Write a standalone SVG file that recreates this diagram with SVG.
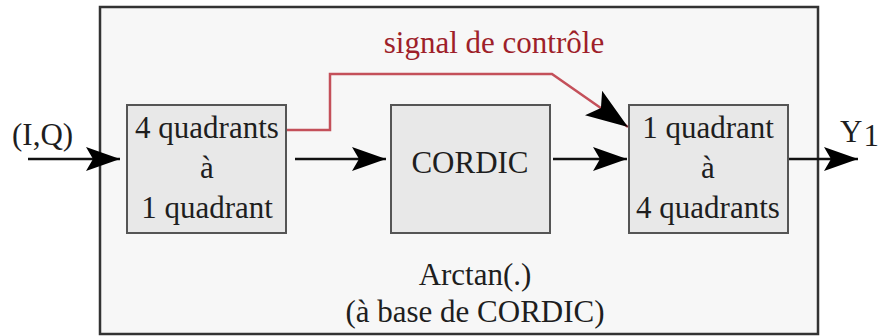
<svg xmlns="http://www.w3.org/2000/svg" width="880" height="336" viewBox="0 0 880 336">
<style>
  .t { font-family: "Liberation Serif", "Times New Roman", serif; font-size: 31px; fill: #1e1e1e; text-anchor: middle; }
  .red { fill: #9e1f2a; }
  .blk { fill: #e8e8e8; stroke: #555; stroke-width: 2; }
  .ln { fill: none; stroke: #111; stroke-width: 2.5; }
  .rl { fill: none; stroke: #c4505a; stroke-width: 2.5; }
</style>
<defs>
  <marker id="ah" markerUnits="userSpaceOnUse" markerWidth="36" markerHeight="26" viewBox="0 0 36 26" refX="34" refY="13" orient="auto">
    <path d="M0,1 L34,13 L0,25 L7,13 Z" fill="#000"/>
  </marker>
  <marker id="ahBig" markerUnits="userSpaceOnUse" markerWidth="44" markerHeight="32" viewBox="0 0 44 32" refX="42" refY="16" orient="auto">
    <path d="M0,1 L42,16 L0,31 L9,16 Z" fill="#000"/>
  </marker>
</defs>
<rect width="880" height="336" fill="#fff"/>
<g id="outer">
  <rect x="100" y="7" width="718" height="327" fill="#f7f7f7" stroke="#333" stroke-width="2.5"/>
  <text class="t" x="475" y="285">Arctan(.)</text>
  <text class="t" x="475" y="322">(à base de CORDIC)</text>
</g>
<g id="connectors">
  <path class="ln" d="M28,159 L120,159" marker-end="url(#ah)"/>
  <path class="ln" d="M295,159 L386,159" marker-end="url(#ah)"/>
  <path class="ln" d="M553,159 L627,159" marker-end="url(#ah)"/>
  <path class="ln" d="M788,159 L858,159" marker-end="url(#ah)"/>
  <path class="rl" d="M286,130 L330,130 L330,74 L552,74 L628,127" marker-end="url(#ahBig)"/>
</g>
<g id="in-label"><text class="t" x="12" y="145" style="text-anchor:start">(I,Q)</text></g>
<g id="out-label"><text class="t" x="840" y="142" style="text-anchor:start">Y<tspan dx="1" dy="4">1</tspan></text></g>
<g id="ctrl-label"><text class="t red" x="494" y="53">signal de contrôle</text></g>
<g id="n1">
  <rect class="blk" x="127" y="105" width="159" height="128"/>
  <text class="t" x="207" y="138">4 quadrants</text>
  <text class="t" x="207" y="178">à</text>
  <text class="t" x="207" y="218">1 quadrant</text>
</g>
<g id="n2">
  <rect class="blk" x="391" y="105" width="159" height="128"/>
  <text class="t" x="470" y="173">CORDIC</text>
</g>
<g id="n3">
  <rect class="blk" x="629" y="105" width="159" height="128"/>
  <text class="t" x="708" y="138">1 quadrant</text>
  <text class="t" x="708" y="178">à</text>
  <text class="t" x="708" y="218">4 quadrants</text>
</g>
</svg>
